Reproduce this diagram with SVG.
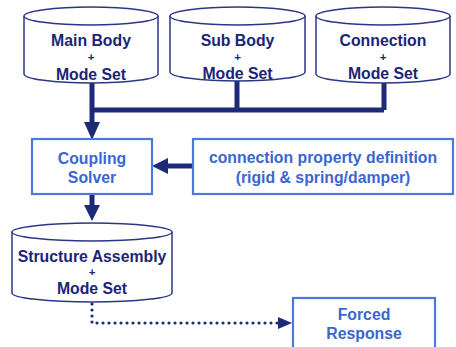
<svg xmlns="http://www.w3.org/2000/svg" width="456" height="347" viewBox="0 0 456 347">
<defs>
<style>
.cyl{fill:#ffffff;stroke:#2b3786;stroke-width:1.5}
.box{fill:#ffffff;stroke:#4a78dc;stroke-width:2.2}
.t1{font-family:"Liberation Sans",Arial,sans-serif;font-weight:bold;font-size:15.8px;fill:#1b2576;text-anchor:middle}
.t2{font-family:"Liberation Sans",Arial,sans-serif;font-weight:bold;font-size:15.8px;fill:#3a66d2;text-anchor:middle}
.plus{font-family:"Liberation Sans",Arial,sans-serif;font-weight:bold;font-size:11.5px;fill:#1b2576;text-anchor:middle}
.thick{fill:none;stroke:#1c2a78;stroke-width:5}
.dot{fill:none;stroke:#1c2a78;stroke-width:3.2;stroke-linecap:round;stroke-dasharray:0 6}
.head{fill:#1c2a78}
</style>
</defs>
<rect width="456" height="347" fill="#ffffff"/>
<g id="connectors">
<path class="thick" d="M92 83 V124"/>
<path class="thick" d="M92 110 H384 M237 81 V110 M384 83 V110"/>
<polygon class="head" points="84,122 100,122 92,140"/>
<path class="thick" d="M193 166 H166"/>
<polygon class="head" points="168,158 168,174 152,166"/>
<path class="thick" d="M92 194 V207"/>
<polygon class="head" points="84,205 100,205 92,221"/>
<path class="dot" d="M92 304 V323 H278"/>
<polygon class="head" points="278,317 278,329 292,323"/>
</g>
<g id="main-body">
<path class="cyl" d="M24 16 V74 A67 9 0 0 0 158 74 V16"/>
<ellipse class="cyl" cx="91" cy="16" rx="67" ry="9"/>
<text class="t1" x="91" y="46">Main Body</text>
<text class="plus" x="91" y="61">+</text>
<text class="t1" x="91" y="80">Mode Set</text>
</g>
<g id="sub-body">
<path class="cyl" d="M170 16 V72 A67.5 9 0 0 0 305 72 V16"/>
<ellipse class="cyl" cx="237.5" cy="16" rx="67.5" ry="9"/>
<text class="t1" x="237.5" y="46">Sub Body</text>
<text class="plus" x="237.5" y="61">+</text>
<text class="t1" x="237.5" y="79">Mode Set</text>
</g>
<g id="connection">
<path class="cyl" d="M316 16 V74 A67 9 0 0 0 450 74 V16"/>
<ellipse class="cyl" cx="383" cy="16" rx="67" ry="9"/>
<text class="t1" x="383" y="46">Connection</text>
<text class="plus" x="383" y="61">+</text>
<text class="t1" x="383" y="79">Mode Set</text>
</g>
<g id="coupling-solver">
<rect class="box" x="32" y="139" width="120" height="55"/>
<text class="t2" x="92" y="164">Coupling</text>
<text class="t2" x="92" y="183">Solver</text>
</g>
<g id="connection-property">
<rect class="box" x="193" y="139" width="260" height="55"/>
<text class="t2" x="323" y="163">connection property definition</text>
<text class="t2" x="323" y="183">(rigid &amp; spring/damper)</text>
</g>
<g id="structure-assembly">
<path class="cyl" d="M12 232 V293 A80 9 0 0 0 172 293 V232"/>
<ellipse class="cyl" cx="92" cy="232" rx="80" ry="9"/>
<text class="t1" x="92" y="262">Structure Assembly</text>
<text class="plus" x="92" y="276">+</text>
<text class="t1" x="92" y="294">Mode Set</text>
</g>
<g id="forced-response">
<rect class="box" x="293" y="298" width="142" height="60"/>
<text class="t2" x="364" y="320">Forced</text>
<text class="t2" x="364" y="339">Response</text>
</g>
</svg>
